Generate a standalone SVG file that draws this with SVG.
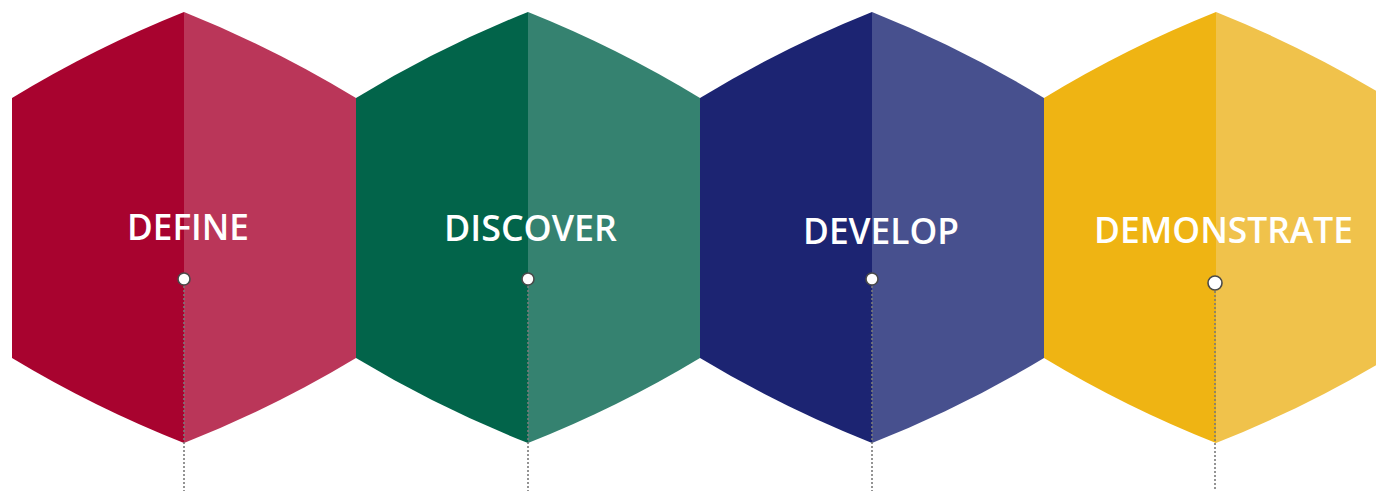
<svg xmlns="http://www.w3.org/2000/svg" width="1376" height="491" viewBox="0 0 1376 491">
  <defs>
    <style>
      .lbl { font-family: "Open Sans", "Liberation Sans", sans-serif; font-weight: 600; font-size: 36px; fill: #ffffff; }
      .dot { fill: #ffffff; stroke: #4a4a4a; stroke-width: 1.6; }
      .lead { stroke: #7a7a7a; stroke-width: 1.6; stroke-dasharray: 2 2; fill: none; }
    </style>
    <path id="leftHalf" d="M -172 98 Q -89.6 47.8 0 12 L 0 443 Q -89.6 407.7 -172 358 Z"/>
    <path id="rightHalf" d="M 172 98 Q 89.6 47.8 0 12 L 0 443 Q 89.6 407.7 172 358 Z"/>
  </defs>
  <rect width="1376" height="491" fill="#ffffff"/>

  <g id="node-define">
    <use href="#leftHalf" transform="translate(184 0)" fill="#A8032F"/>
    <use href="#rightHalf" transform="translate(184 0)" fill="#BA3659"/>
    <text class="lbl" x="127" y="240" textLength="122" lengthAdjust="spacingAndGlyphs">DEFINE</text>
    <circle class="dot" cx="184" cy="279" r="6"/>
  </g>

  <g id="node-discover">
    <use href="#leftHalf" transform="translate(528 0)" fill="#02644A"/>
    <use href="#rightHalf" transform="translate(528 0)" fill="#358270"/>
    <text class="lbl" x="444" y="241" textLength="173" lengthAdjust="spacingAndGlyphs">DISCOVER</text>
    <circle class="dot" cx="528" cy="279" r="6"/>
  </g>

  <g id="node-develop">
    <use href="#leftHalf" transform="translate(872 0)" fill="#1C2472"/>
    <use href="#rightHalf" transform="translate(872 0)" fill="#47508E"/>
    <text class="lbl" x="803" y="244" textLength="156" lengthAdjust="spacingAndGlyphs">DEVELOP</text>
    <circle class="dot" cx="872" cy="279" r="6"/>
  </g>

  <g id="node-demonstrate">
    <use href="#leftHalf" transform="translate(1216 0)" fill="#EFB413"/>
    <use href="#rightHalf" transform="translate(1216 0)" fill="#F0C24B"/>
    <text class="lbl" x="1094" y="243" textLength="259" lengthAdjust="spacingAndGlyphs">DEMONSTRATE</text>
    <circle class="dot" cx="1215" cy="283" r="7"/>
  </g>

  <g id="connectors">
    <line class="lead" x1="184" y1="286" x2="184" y2="491"/>
    <line class="lead" x1="528" y1="286" x2="528" y2="491"/>
    <line class="lead" x1="872" y1="286" x2="872" y2="491"/>
    <line class="lead" x1="1215" y1="291" x2="1215" y2="491"/>
  </g>
</svg>
